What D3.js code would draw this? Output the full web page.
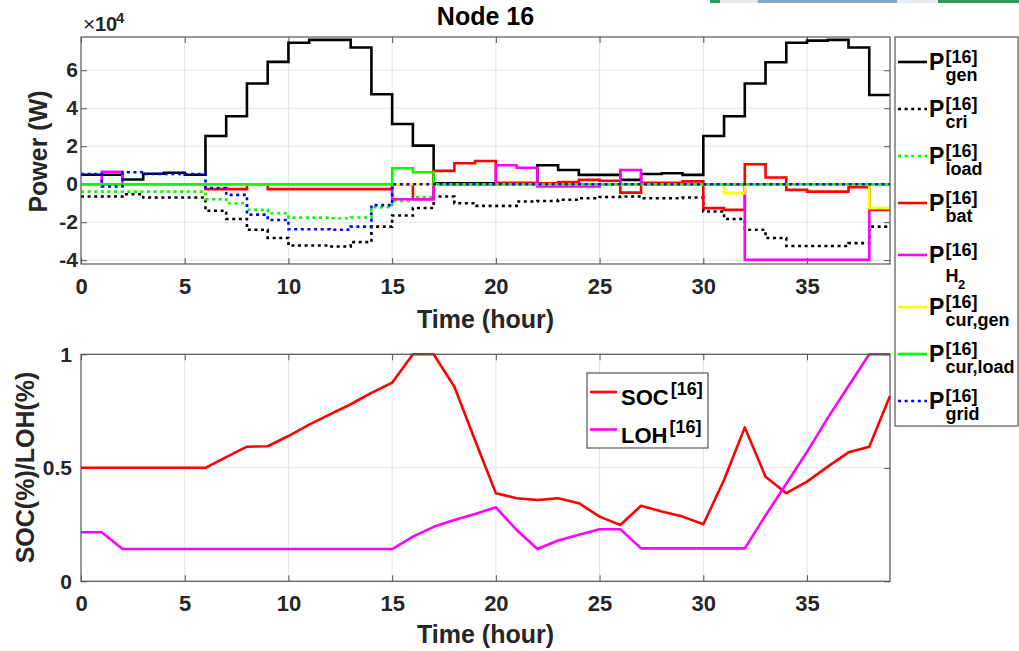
<!DOCTYPE html>
<html>
<head>
<meta charset="utf-8">
<script src="https://cdn.jsdelivr.net/npm/d3@7"></script>
<style>
  body { margin: 0; background: #fff; }
  svg { display: block; font-family: 'Liberation Sans', Arial, sans-serif; font-weight: bold; }
</style>
</head>
<body>
<div id="chart"></div>
<script>
// hourly values, W (top plot) and fraction (bottom plot)
const hourTicks = [0, 5, 10, 15, 20, 25, 30, 35]
const powerTicks = [-40000, -20000, 0, 20000, 40000, 60000]
const socTicks = [0, 0.5, 1]

const pGen = [5000, 5000, 2500, 5500, 6000, 5000, 25400, 35800, 53000, 64400, 74500, 76000, 76000, 72000, 47400, 31700, 20300,
  500, 500, 500, 500, 500, 10000, 7500, 4900, 4900, 2300, 5400, 5800, 4900,
  25400, 35800, 53000, 64200, 74500, 75600, 76000, 72000, 47000, 47000]
const pCri = [-6500, -6500, -5300, -7000, -7000, -7000, -14000, -18300, -24000, -28300, -32300, -32300, -32800, -30500, -22300, -16500, -12500,
  -6500, -10000, -11400, -11400, -9100, -8800, -8200, -7400, -6700, -6500, -7400, -7400, -7000,
  -14400, -18300, -24000, -28300, -32500, -32500, -32500, -31000, -22300, -22300]
const pLoad = [-3900, -3900, -3900, -3900, -3900, -3900, -7900, -10000, -13500, -15300, -17600, -17600, -17900, -17500, -12100, -8800, -6800,
  0, 0, 0, 0, 0, 0, 0, 0, 0, 0, 0, 0, 0, 0, 0, 0, 0, 0, 0, 0, 0, 0, 0]
const pBat = [0, 0, 0, 0, 0, 0, -2600, -2600, 0, -2600, -2600, -2600, -2600, -2600, -2600, 0, -7900,
  7000, 11000, 12200, 800, 800, 500, 1200, 2300, 1800, -4400, 800, 800, 1500,
  -12600, -13500, 10500, 3500, -3000, -3900, -3900, -1600, -13500, -13500]
const pH2 = [0, 6600, 0, 0, 0, 0, 0, 0, 0, 0, 0, 0, 0, 0, 0, -7900, -7900,
  0, 0, 0, 10000, 8700, -1200, -1200, -1200, 0, 7500, 0, 0, 0,
  0, 0, -39800, -39800, -39800, -39800, -39800, -39800, -13200]
const pCurGen = [0, 0, 0, 0, 0, 0, 0, 0, 0, 0, 0, 0, 0, 0, 0, 0, 0,
  0, 0, 0, 0, 0, 0, 0, 0, 0, 0, 0, 0, 0,
  0, -4700, 0, 0, 0, 0, 0, 0, -12600, -12600]
const pCurLoad = [0, 0, 0, 0, 0, 0, 0, 0, 0, 0, 0, 0, 0, 0, 0, 8400, 6300,
  0, 0, 0, 0, 0, 0, 0, 0, 0, 0, 0, 0, 0,
  0, 0, 0, 0, 0, 0, 0, 0, 0, 0]
const pGrid = [5400, -1200, 6300, 5400, 5400, 5400, -2000, -5600, -16000, -18800, -23700, -23700, -24000, -22300, -11000, 0, 0,
  0, 0, 0, 0, 0, 0, 0, 0, 0, 0, 0, 0, 0,
  0, 0, 0, 0, 0, 0, 0, 0, 0, 0]

const soc = [0.5, 0.5, 0.5, 0.5, 0.5, 0.5, 0.5, 0.547, 0.593, 0.595, 0.64, 0.69, 0.735, 0.78, 0.83, 0.875, 1.0,
  1.0, 0.857, 0.62, 0.388, 0.366, 0.358, 0.366, 0.344, 0.285, 0.248, 0.333, 0.307, 0.285,
  0.251, 0.446, 0.678, 0.461, 0.388, 0.439, 0.505, 0.568, 0.593, 0.816]
const loh = [0.216, 0.216, 0.142, 0.142, 0.142, 0.142, 0.142, 0.142, 0.142, 0.142, 0.142, 0.142, 0.142, 0.142, 0.142, 0.142, 0.197,
  0.24, 0.27, 0.296, 0.326, 0.226, 0.142, 0.18, 0.205, 0.229, 0.229, 0.145, 0.145, 0.145,
  0.145, 0.145, 0.145, 0.29, 0.43, 0.57, 0.72, 0.86, 1.0, 1.0]

const width = 1019
const height = 651
const left = 81
const right = 890
const dotted = '3,3.6'

const svg = d3.select('#chart').append('svg')
  .attr('width', width)
  .attr('height', height)

// slide remnant along the top edge
const strip = [[710, 720, '#2e9960'], [720, 758, '#e6e8ea'], [758, 897, '#8aa5bf'], [897, 938, '#e6ecef'], [938, 1019, '#2e9960']]
svg.selectAll('rect.strip').data(strip).enter().append('rect')
  .attr('class', 'strip')
  .attr('x', (d) => d[0]).attr('y', 0)
  .attr('width', (d) => d[1] - d[0]).attr('height', 3)
  .attr('fill', (d) => d[2])

const x = d3.scaleLinear().domain([0, 39]).range([left, right])

const drawFrame = (y, top, bottom, yTicks, yFmt, yPad) => {
  const g = svg.append('g')
  g.selectAll('line.gx').data(hourTicks.slice(1)).enter().append('line')
    .attr('x1', (d) => x(d)).attr('x2', (d) => x(d))
    .attr('y1', top).attr('y2', bottom)
    .attr('stroke', '#e3e3e3')
  g.selectAll('line.gy').data(yTicks).enter().append('line')
    .attr('x1', left).attr('x2', right)
    .attr('y1', (d) => y(d)).attr('y2', (d) => y(d))
    .attr('stroke', '#e3e3e3')

  const ax = g.append('g').attr('transform', `translate(0,${bottom})`)
    .call(d3.axisBottom(x).tickValues(hourTicks).tickSizeInner(-6).tickSizeOuter(0).tickPadding(14))
  ax.selectAll('text').attr('font-size', 22)
  const at = g.append('g').attr('transform', `translate(0,${top})`)
    .call(d3.axisTop(x).tickValues(hourTicks).tickSizeInner(-6).tickSizeOuter(0).tickFormat(''))
  const ay = g.append('g').attr('transform', `translate(${left},0)`)
    .call(d3.axisLeft(y).tickValues(yTicks).tickSizeInner(-6).tickSizeOuter(0).tickPadding(yPad).tickFormat(yFmt))
  ay.selectAll('text').attr('font-size', 21)
  const ar = g.append('g').attr('transform', `translate(${right},0)`)
    .call(d3.axisRight(y).tickValues(yTicks).tickSizeInner(-6).tickSizeOuter(0).tickFormat(''))
  ;[ax, at, ay, ar].forEach((a) => {
    a.select('.domain').remove()
    a.selectAll('line').attr('stroke', '#555')
    a.selectAll('text').attr('fill', '#262626').attr('font-family', null)
  })
  return g
}

const drawBox = (top, bottom) => {
  svg.append('rect')
    .attr('x', left).attr('y', top)
    .attr('width', right - left).attr('height', bottom - top)
    .attr('fill', 'none').attr('stroke', '#555').attr('stroke-width', 1.2)
}

// ---- top: power
const yP = d3.scaleLinear().domain([-42000, 77500]).range([264, 37])
drawFrame(yP, 37, 264, powerTicks, (d) => String(d / 1e4), 3)

const series = [
  { name: 'gen', values: pGen, color: '#000000', dash: null },
  { name: 'cri', values: pCri, color: '#000000', dash: dotted },
  { name: 'load', values: pLoad, color: '#00ff00', dash: dotted },
  { name: 'bat', values: pBat, color: '#ff0000', dash: null },
  { name: 'H2', values: pH2, color: '#ff00ff', dash: null },
  { name: 'cur,gen', values: pCurGen, color: '#ffff00', dash: null },
  { name: 'cur,load', values: pCurLoad, color: '#00ff00', dash: null },
  { name: 'grid', values: pGrid, color: '#0000ff', dash: dotted },
]

const stairs = d3.line()
  .x((d, i) => x(i))
  .y((d) => yP(d))
  .curve(d3.curveStepAfter)

svg.append('g').selectAll('path').data(series).enter().append('path')
  .attr('d', (s) => stairs(s.values))
  .attr('fill', 'none')
  .attr('stroke', (s) => s.color)
  .attr('stroke-width', 2.6)
  .attr('stroke-dasharray', (s) => s.dash)

drawBox(37, 264)

svg.append('text').attr('x', 485.5).attr('y', 25).attr('text-anchor', 'middle')
  .attr('font-size', 25).attr('fill', '#000').text('Node 16')

// exponent label
svg.append('text').attr('x', 83).attr('y', 31).attr('font-size', 21)
  .attr('font-weight', 'normal').attr('fill', '#262626').text('\u00d7')
svg.append('text').attr('x', 95).attr('y', 31).attr('font-size', 20)
  .attr('fill', '#262626').text('10')
svg.append('text').attr('x', 116).attr('y', 23).attr('font-size', 15)
  .attr('fill', '#262626').text('4')

svg.append('text')
  .attr('transform', 'translate(46.5,151.5) rotate(-90)')
  .attr('text-anchor', 'middle').attr('font-size', 25).attr('fill', '#262626')
  .text('Power (W)')

svg.append('text').attr('x', 485.5).attr('y', 328).attr('text-anchor', 'middle')
  .attr('font-size', 25).attr('fill', '#262626').text('Time (hour)')

// legend, top plot
const lg = svg.append('g')
lg.append('rect').attr('x', 895).attr('y', 37).attr('width', 123).attr('height', 389)
  .attr('fill', '#fff').attr('stroke', '#555').attr('stroke-width', 1.2)

series.forEach((s, i) => {
  const ly = 62 + i * 47 + (i >= 4 ? 5 : 0) + (i >= 5 ? 5 : 0)
  lg.append('line').attr('x1', 898).attr('x2', 927).attr('y1', ly).attr('y2', ly)
    .attr('stroke', s.color).attr('stroke-width', 2.6).attr('stroke-dasharray', s.dash)
  lg.append('text').attr('x', 929).attr('y', ly + 8).attr('font-size', 23).text('P')
  lg.append('text').attr('x', 945.5).attr('y', ly + 1).attr('font-size', 18).text('[16]')
  if (s.name === 'H2') {
    lg.append('text').attr('x', 945.5).attr('y', ly + 27).attr('font-size', 18).text('H')
    lg.append('text').attr('x', 958).attr('y', ly + 34).attr('font-size', 13).text('2')
  } else {
    lg.append('text').attr('x', 945.5).attr('y', ly + 19).attr('font-size', 18).text(s.name)
  }
})

// ---- bottom: SOC / LOH
const yS = d3.scaleLinear().domain([0, 1]).range([581.3, 354.3])
drawFrame(yS, 354.3, 581.3, socTicks, (d) => String(d), 9)

const storage = [
  { name: 'SOC', values: soc, color: '#ff0000' },
  { name: 'LOH', values: loh, color: '#ff00ff' },
]
const polyline = d3.line().x((d, i) => x(i)).y((d) => yS(d))

svg.append('g').selectAll('path').data(storage).enter().append('path')
  .attr('d', (s) => polyline(s.values))
  .attr('fill', 'none')
  .attr('stroke', (s) => s.color)
  .attr('stroke-width', 2.6)
  .attr('stroke-linejoin', 'round')

drawBox(354.3, 581.3)

svg.append('text')
  .attr('transform', 'translate(33.5,467.5) rotate(-90)')
  .attr('text-anchor', 'middle').attr('font-size', 25).attr('fill', '#262626')
  .text('SOC(%)/LOH(%)')

svg.append('text').attr('x', 485.5).attr('y', 643).attr('text-anchor', 'middle')
  .attr('font-size', 25).attr('fill', '#262626').text('Time (hour)')

const lb = svg.append('g')
lb.append('rect').attr('x', 587).attr('y', 373).attr('width', 121).attr('height', 75)
  .attr('fill', '#fff').attr('stroke', '#555').attr('stroke-width', 1.2)
storage.forEach((s, i) => {
  const ly = 392 + i * 37.5
  lb.append('line').attr('x1', 590).attr('x2', 617).attr('y1', ly).attr('y2', ly)
    .attr('stroke', s.color).attr('stroke-width', 2.6)
  const t = lb.append('text').attr('x', 621).attr('y', ly + 13).attr('font-size', 22)
  t.append('tspan').text(s.name)
  t.append('tspan').attr('font-size', 18).attr('dy', -10).attr('dx', 2).text('[16]')
})
</script>
</body>
</html>
